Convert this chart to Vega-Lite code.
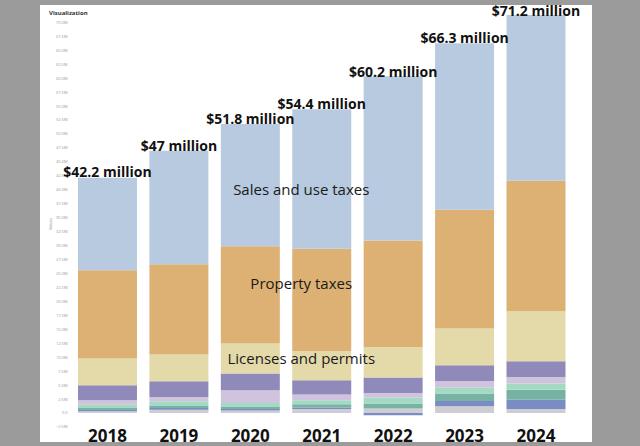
{
  "$schema": "https://vega.github.io/schema/vega-lite/v6.json",
  "width": 552,
  "height": 437,
  "autosize": {"type": "none"},
  "padding": {"left": 40, "top": 5, "right": 48, "bottom": 4},
  "background": "#9b9b9b",
  "view": {"fill": "#ffffff", "stroke": null},
  "config": {"font": "Open Sans", "axis": {"grid": false, "labelOverlap": false}, "axisY": {"labelOverlap": false}},
  "title": {
    "text": "Visualization",
    "anchor": "start",
    "frame": "group",
    "orient": "top",
    "offset": -14,
    "baseline": "middle",
    "dx": 9,
    "fontSize": 6,
    "fontWeight": "bold",
    "color": "#333333"
  },
  "datasets": {
    "revenue": [
      {"year": "2018", "category": "Other revenue", "order": 1, "value": 0.3},
      {"year": "2018", "category": "Investment earnings", "order": 2, "value": 0.23},
      {"year": "2018", "category": "Franchise fees", "order": 3, "value": 0.36},
      {"year": "2018", "category": "Charges for services", "order": 4, "value": 0.6},
      {"year": "2018", "category": "Fines and forfeitures", "order": 5, "value": 0.77},
      {"year": "2018", "category": "Intergovernmental", "order": 6, "value": 2.7},
      {"year": "2018", "category": "Licenses and permits", "order": 7, "value": 4.8},
      {"year": "2018", "category": "Property taxes", "order": 8, "value": 15.8},
      {"year": "2018", "category": "Sales and use taxes", "order": 9, "value": 16.6},

      {"year": "2019", "category": "Other revenue", "order": 1, "value": 0.6},
      {"year": "2019", "category": "Investment earnings", "order": 2, "value": 0.3},
      {"year": "2019", "category": "Franchise fees", "order": 3, "value": 0.36},
      {"year": "2019", "category": "Charges for services", "order": 4, "value": 0.84},
      {"year": "2019", "category": "Fines and forfeitures", "order": 5, "value": 0.77},
      {"year": "2019", "category": "Intergovernmental", "order": 6, "value": 2.8},
      {"year": "2019", "category": "Licenses and permits", "order": 7, "value": 4.8},
      {"year": "2019", "category": "Property taxes", "order": 8, "value": 16.2},
      {"year": "2019", "category": "Sales and use taxes", "order": 9, "value": 20.3},

      {"year": "2020", "category": "Other revenue", "order": 1, "value": 0.43},
      {"year": "2020", "category": "Investment earnings", "order": 2, "value": 0.29},
      {"year": "2020", "category": "Franchise fees", "order": 3, "value": 0.36},
      {"year": "2020", "category": "Charges for services", "order": 4, "value": 0.72},
      {"year": "2020", "category": "Fines and forfeitures", "order": 5, "value": 2.28},
      {"year": "2020", "category": "Intergovernmental", "order": 6, "value": 3.0},
      {"year": "2020", "category": "Licenses and permits", "order": 7, "value": 5.38},
      {"year": "2020", "category": "Property taxes", "order": 8, "value": 17.4},
      {"year": "2020", "category": "Sales and use taxes", "order": 9, "value": 21.9},

      {"year": "2021", "category": "Other revenue", "order": 1, "value": 0.72},
      {"year": "2021", "category": "Investment earnings", "order": 2, "value": 0.25},
      {"year": "2021", "category": "Franchise fees", "order": 3, "value": 0.6},
      {"year": "2021", "category": "Charges for services", "order": 4, "value": 0.72},
      {"year": "2021", "category": "Fines and forfeitures", "order": 5, "value": 1.0},
      {"year": "2021", "category": "Intergovernmental", "order": 6, "value": 2.57},
      {"year": "2021", "category": "Licenses and permits", "order": 7, "value": 5.26},
      {"year": "2021", "category": "Property taxes", "order": 8, "value": 18.3},
      {"year": "2021", "category": "Sales and use taxes", "order": 9, "value": 25.0},

      {"year": "2022", "category": "Other revenue", "order": 1, "value": 0.79},
      {"year": "2022", "category": "Investment earnings", "order": 2, "value": -0.4},
      {"year": "2022", "category": "Franchise fees", "order": 3, "value": 0.9},
      {"year": "2022", "category": "Charges for services", "order": 4, "value": 1.07},
      {"year": "2022", "category": "Fines and forfeitures", "order": 5, "value": 0.82},
      {"year": "2022", "category": "Intergovernmental", "order": 6, "value": 2.76},
      {"year": "2022", "category": "Licenses and permits", "order": 7, "value": 5.48},
      {"year": "2022", "category": "Property taxes", "order": 8, "value": 19.1},
      {"year": "2022", "category": "Sales and use taxes", "order": 9, "value": 29.4},

      {"year": "2023", "category": "Other revenue", "order": 1, "value": 1.2},
      {"year": "2023", "category": "Investment earnings", "order": 2, "value": 0.95},
      {"year": "2023", "category": "Franchise fees", "order": 3, "value": 1.33},
      {"year": "2023", "category": "Charges for services", "order": 4, "value": 1.08},
      {"year": "2023", "category": "Fines and forfeitures", "order": 5, "value": 1.18},
      {"year": "2023", "category": "Intergovernmental", "order": 6, "value": 2.81},
      {"year": "2023", "category": "Licenses and permits", "order": 7, "value": 6.58},
      {"year": "2023", "category": "Property taxes", "order": 8, "value": 21.3},
      {"year": "2023", "category": "Sales and use taxes", "order": 9, "value": 29.8},

      {"year": "2024", "category": "Other revenue", "order": 1, "value": 0.72},
      {"year": "2024", "category": "Investment earnings", "order": 2, "value": 1.67},
      {"year": "2024", "category": "Franchise fees", "order": 3, "value": 1.79},
      {"year": "2024", "category": "Charges for services", "order": 4, "value": 1.08},
      {"year": "2024", "category": "Fines and forfeitures", "order": 5, "value": 1.2},
      {"year": "2024", "category": "Intergovernmental", "order": 6, "value": 2.8},
      {"year": "2024", "category": "Licenses and permits", "order": 7, "value": 8.96},
      {"year": "2024", "category": "Property taxes", "order": 8, "value": 23.4},
      {"year": "2024", "category": "Sales and use taxes", "order": 9, "value": 29.7}
    ],
    "totals": [
      {"year": "2018", "total": 42.2, "label": "$42.2 million"},
      {"year": "2019", "total": 47.0, "label": "$47 million"},
      {"year": "2020", "total": 51.8, "label": "$51.8 million"},
      {"year": "2021", "total": 54.4, "label": "$54.4 million"},
      {"year": "2022", "total": 60.2, "label": "$60.2 million"},
      {"year": "2023", "total": 66.3, "label": "$66.3 million"},
      {"year": "2024", "total": 71.2, "label": "$71.2 million"}
    ],
    "annotations": [
      {"year": "2021", "value": 40.0, "text": "Sales and use taxes"},
      {"year": "2021", "value": 23.1, "text": "Property taxes"},
      {"year": "2021", "value": 9.7, "text": "Licenses and permits"}
    ]
  },
  "encoding": {
    "x": {
      "field": "year",
      "type": "nominal",
      "sort": ["2018", "2019", "2020", "2021", "2022", "2023", "2024"],
      "scale": {"paddingInner": 0.174, "paddingOuter": 0.4515, "align": 0.589},
      "axis": {
        "title": null,
        "labelAngle": 0,
        "domain": false,
        "ticks": false,
        "offset": -15,
        "labelPadding": 1,
        "labelFont": "Open Sans",
        "labelFontSize": 17,
        "labelFontWeight": "bold",
        "labelColor": "#111111"
      }
    },
    "y": {
      "field": "value",
      "type": "quantitative",
      "scale": {"domain": [-5.2, 73.1], "nice": false, "zero": false},
      "axis": {
        "title": "Values",
        "titleFontSize": 4,
        "titleFontWeight": "normal",
        "titleColor": "#888888",
        "titlePadding": 3,
        "values": [-2.5, 0, 2.5, 5, 7.5, 10, 12.5, 15, 17.5, 20, 22.5, 25, 27.5, 30, 32.5, 35, 37.5, 40, 42.5, 45, 47.5, 50, 52.5, 55, 57.5, 60, 62.5, 65, 67.5, 70],
        "labelExpr": "datum.value == 0 ? '0.0' : format(datum.value, '.1f') + 'M'",
        "labelOverlap": false,
        "labelFontSize": 4,
        "labelColor": "#999999",
        "labelPadding": 2,
        "domain": false,
        "ticks": false,
        "offset": -29
      }
    }
  },
  "layer": [
    {
      "data": {"name": "revenue"},
      "mark": {"type": "bar"},
      "encoding": {
        "y": {
          "field": "value",
          "type": "quantitative",
          "stack": "zero"
        },
        "color": {
          "field": "category",
          "type": "nominal",
          "scale": {
            "domain": ["Other revenue", "Investment earnings", "Franchise fees", "Charges for services", "Fines and forfeitures", "Intergovernmental", "Licenses and permits", "Property taxes", "Sales and use taxes"],
            "range": ["#cdcdd3", "#7a8cc2", "#77b3a2", "#a4d9c4", "#cfc3dd", "#8f8ab9", "#e4d9a9", "#dcb173", "#b8cadf"]
          },
          "legend": null
        },
        "order": {"field": "order", "type": "quantitative", "sort": "ascending"}
      }
    },
    {
      "data": {"name": "totals"},
      "mark": {"type": "tick", "orient": "horizontal", "size": 72, "thickness": 1, "color": "#b5b5b5"},
      "encoding": {
        "y": {"datum": -2.5}
      }
    },
    {
      "data": {"name": "totals"},
      "mark": {"type": "text", "baseline": "alphabetic", "dy": 0, "font": "Open Sans", "fontSize": 14, "fontWeight": "bold", "color": "#111111"},
      "encoding": {
        "y": {"field": "total", "type": "quantitative"},
        "text": {"field": "label"}
      }
    },
    {
      "data": {"name": "annotations"},
      "mark": {"type": "text", "baseline": "middle", "align": "center", "dx": 9, "font": "Open Sans", "fontSize": 15, "color": "#1a1a1a"},
      "encoding": {
        "x": {"field": "year", "type": "nominal", "bandPosition": 0},
        "y": {"field": "value", "type": "quantitative"},
        "text": {"field": "text"}
      }
    }
  ]
}
